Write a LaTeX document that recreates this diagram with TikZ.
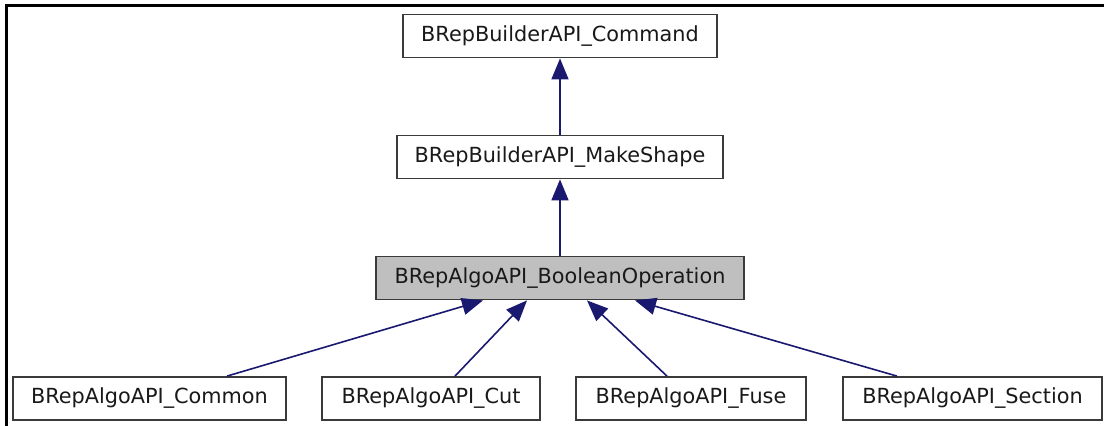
\documentclass[tikz,border=0pt]{standalone}
\usepackage{fontspec}
\setmainfont{DejaVu Sans}
\usetikzlibrary{arrows.meta,calc}

\definecolor{edgeblue}{HTML}{191970}
\definecolor{boxline}{HTML}{3A3A3A}
\definecolor{curfill}{HTML}{BFBFBF}

\begin{document}
\begin{tikzpicture}[x=1pt,y=-1pt,
  classbox/.style={draw=boxline, line width=1.8pt, fill=white, rectangle,
    inner sep=0pt, minimum height=43pt,
    font=\fontsize{20.8}{24}\selectfont, text=black!90},
  current/.style={classbox, fill=curfill},
  inherit/.style={draw=edgeblue, line width=1.6pt,
    -{Triangle[length=21pt,width=17pt]}, shorten >=0pt}
]
\useasboundingbox (0,0) rectangle (1104,426);
\fill[white] (0,0) rectangle (1104,426);

% frame lines along the top and left edges
\draw[line width=2.6pt, black] (6.5,426) -- (6.5,5.5) -- (1104,5.5);

% class boxes
\node[classbox, minimum width=314pt] (cmd)  at (560,36)    {BRepBuilderAPI\_Command};
\node[classbox, minimum width=326pt] (mks)  at (560,157)   {BRepBuilderAPI\_MakeShape};
\node[current,  minimum width=368pt] (bop)  at (560,278)   {BRepAlgoAPI\_BooleanOperation};
\node[classbox, minimum width=273pt] (com)  at (149.5,398.5) {BRepAlgoAPI\_Common};
\node[classbox, minimum width=218pt] (cut)  at (431,398.5) {BRepAlgoAPI\_Cut};
\node[classbox, minimum width=230pt] (fus)  at (691,398.5) {BRepAlgoAPI\_Fuse};
\node[classbox, minimum width=259pt] (sec)  at (972.5,398.5) {BRepAlgoAPI\_Section};

% inheritance edges, child -> parent
\draw[inherit] (mks.north) -- (cmd.south);
\draw[inherit] (bop.north) -- (mks.south);
\draw[inherit] ($(com.north)+(77.5,0)$) -- ($(bop.south)+(-77,0)$);
\draw[inherit] ($(cut.north)+(24,0)$)   -- ($(bop.south)+(-33,0)$);
\draw[inherit] ($(fus.north)+(-24,0)$)  -- ($(bop.south)+(27,0)$);
\draw[inherit] ($(sec.north)+(-75.5,0)$) -- ($(bop.south)+(75,0)$);
\end{tikzpicture}
\end{document}
